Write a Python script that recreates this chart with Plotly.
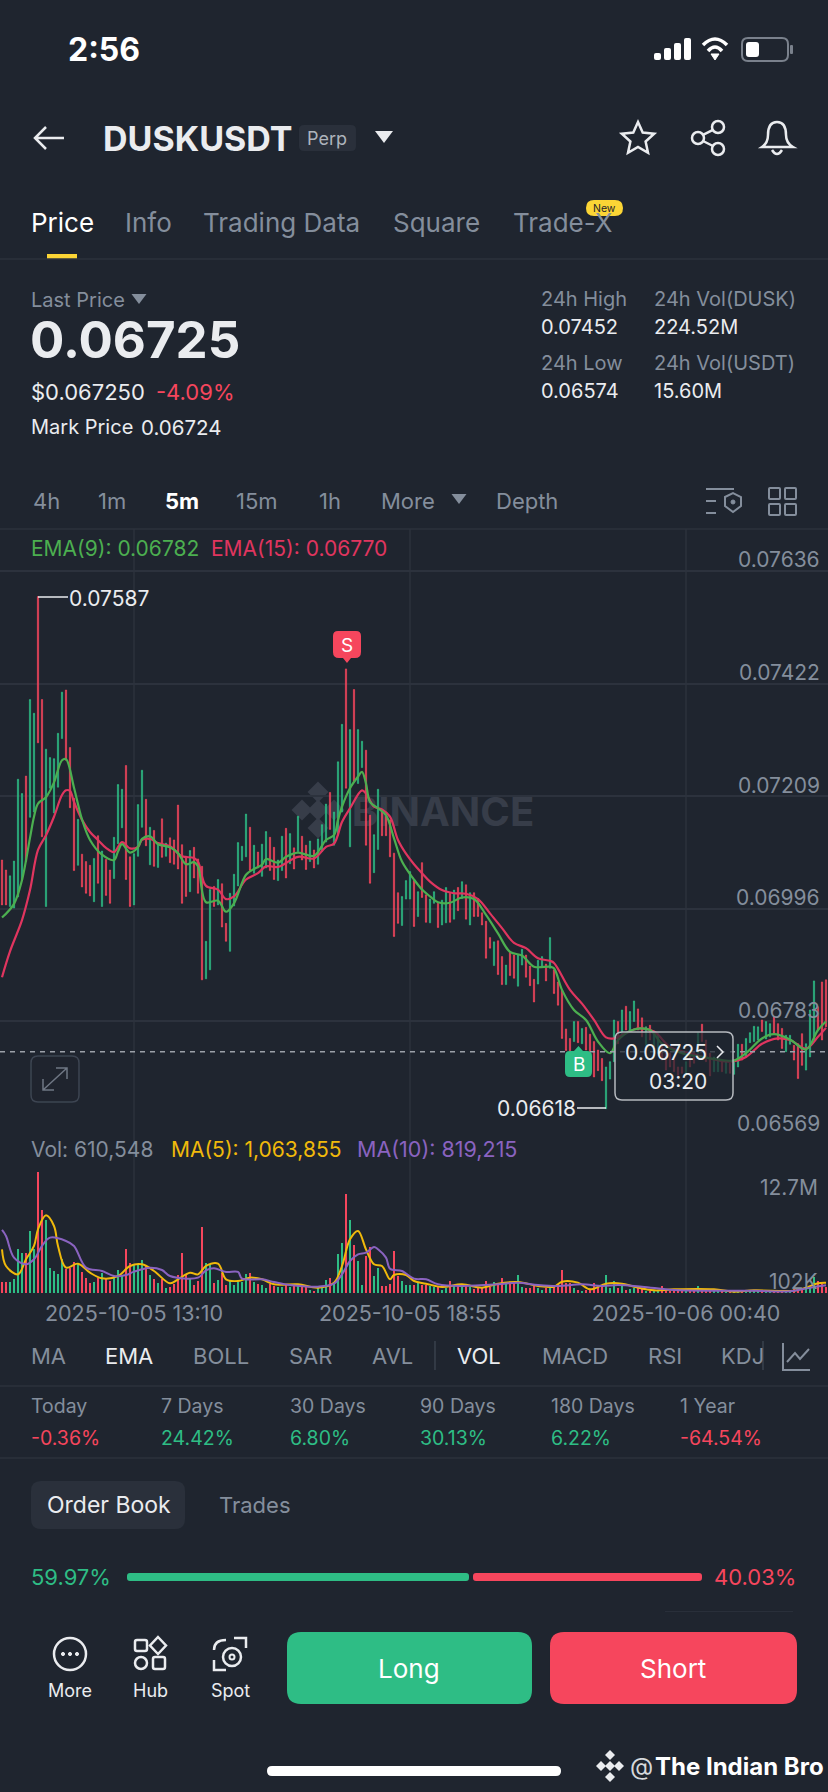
import math
import pandas as pd
import plotly.graph_objects as go

W, H = 828, 1792
FONT = "Inter"
BG = "#1F252F"
GREEN = "#2EBD85"
RED = "#F6465D"
GRAY = "#848E9C"
WHITE = "#EAECEF"
GRID = "#2C323D"

# candle open/close, in units of 0.00001
opens = [7088,7069,7000,6997,7018,7050,7247,7169,7179,7587,7392,7000,7224,7177,7226,7318,7410,7301,7205,7078,7099,7085,7078,7009,7134,7000,7089,7069,7053,7119,
         7149,7267,7094,7003,7095,7150,7203,7079,7144,7074,7166,7095,7130,7126,7192,7117,7095,7028,7112,7090,7076,6863,6880,7038,7003,7043,6968,6915,7001,7039,
         7087,7094,7150,7063,7103,7057,7073,7131,7112,7049,7068,7148,7081,7111,7104,7133,7116,7085,7107,7080,7104,7122,7216,7116,7135,7179,7450,7113,7411,7233,
         7263,7296,7173,7064,7108,7181,7171,7164,7101,7026,6964,7014,7014,7049,6981,7083,7022,6969,7006,7006,6965,6969,7025,6976,7036,7015,7041,6965,7026,7015,
         6988,6972,6941,6888,6935,6905,6852,6914,6908,6849,6889,6908,6887,6862,6853,6885,6891,6883,6880,6857,6842,6768,6750,6744,6782,6740,6771,6758,6744,6728,
         6712,6617,6673,6706,6782,6753,6811,6763,6782,6806,6789,6737,6775,6734,6722,6740,6722,6722,6712,6696,6696,6680,6722,6725,6722,6777,6747,6722,6687,6687,
         6706,6684,6703,6682,6696,6739,6715,6742,6744,6747,6785,6749,6753,6791,6778,6769,6725,6739,6737,6740,6759,6690,6715,6747,6810,6857,6861]
closes = [7003,7003,7058,7086,7241,7214,7085,7392,7366,7310,7132,7298,7282,7280,7328,7406,7277,7187,7068,7165,7037,7025,7020,7091,7044,7105,7021,7006,7131,7231,
          7222,7051,7000,7100,7193,7258,7115,7150,7076,7120,7093,7120,7083,7080,7071,7006,7019,7106,7054,7025,6861,6934,7032,7000,7051,6961,6934,7025,7061,7121,
          7114,7175,7068,7116,7073,7118,7142,7068,7051,7088,7133,7054,7138,7071,7171,7088,7070,7124,7073,7128,7155,7194,7146,7179,7274,7345,7224,7335,7236,7335,
          7313,7116,7044,7136,7222,7134,7134,7094,6943,6968,7019,7049,7066,6962,7028,7017,6970,7014,7028,6960,7012,7036,6970,7031,6992,7047,6976,7026,6981,6981,
          6965,6902,6921,6933,6871,6852,6889,6869,6864,6908,6919,6866,6850,6819,6898,6905,6859,6941,6835,6813,6750,6727,6722,6782,6742,6769,6728,6706,6677,6689,
          6670,6696,6706,6785,6740,6804,6766,6801,6821,6766,6753,6772,6747,6759,6759,6709,6690,6696,6687,6680,6684,6706,6696,6703,6761,6744,6706,6679,6715,6712,
          6687,6706,6684,6709,6739,6709,6750,6761,6773,6772,6763,6782,6778,6759,6747,6731,6756,6756,6709,6674,6699,6740,6804,6859,6766,6747,6772]

# volumes, in thousands
volumes = [1190,1190,1155,1435,4585,4165,4165,6475,4585,12700,8680,7665,2590,2310,2030,3535,2555,2660,3290,3010,2205,1610,1085,1190,1540,2065,1540,1260,1785,2415,
           1890,4655,3115,2905,2905,3430,2835,1890,1435,1015,1435,490,630,910,1890,4200,1890,1435,805,1260,6965,3115,2940,1085,1365,2065,805,1260,805,1155,
           1155,1960,2135,1155,910,805,560,910,735,665,665,910,665,735,910,980,735,315,140,525,595,1365,1540,1155,4060,5285,10360,7630,5040,3325,
           805,3885,4865,1750,2590,735,735,980,4375,1785,1225,805,840,840,1050,875,875,700,630,630,350,560,1260,700,770,700,770,630,420,490,
           630,1225,630,1190,1050,1540,980,980,1050,1855,630,490,490,700,560,350,560,630,630,700,2380,1050,1050,560,350,210,350,420,1050,770,
           700,1855,560,1260,560,700,350,420,490,490,490,245,210,280,350,700,350,210,140,210,210,175,210,175,770,280,210,280,245,210,
           140,105,105,105,105,105,105,210,210,175,175,175,245,105,105,175,105,105,420,350,525,420,770,1680,1225,980,611]

# moving averages read at these candle numbers
ema9_idx = [0,3,5,7,8,9,11,13,15,16,18,20,22,25,28,29,30,32,34,35,37,39,42,44,46,48,49,51,54,56,58,61,63,65,66,69,71,74,78,81,83,84,85,87,89,90,91,92,94,96,98,100,
            103,105,107,109,112,115,118,121,124,127,130,133,137,138,140,143,146,149,152,154,158,162,165,170,175,180,183,186,190,193,197,201,204,206]
ema9 = [6979,7005,7050,7130,7170,7195,7207,7235,7277,7279,7225,7165,7126,7098,7088,7104,7118,7102,7112,7128,7133,7118,7112,7101,7080,7084,7076,7008,7011,6990,7006,7060,7071,7079,7090,7083,7094,7102,7096,7126,7135,7164,7189,7224,7246,7255,7233,7198,7186,7173,7129,7085,
        7051,7032,7019,7008,7007,7017,7014,6984,6949,6914,6907,6886,6886,6883,6842,6804,6785,6744,6722,6747,6767,6766,6740,6722,6715,6709,6708,6722,6750,6758,6748,6729,6766,6782]
ema15_idx = [0,2,5,7,9,11,13,15,16,17,18,20,22,24,26,28,30,32,34,35,37,39,42,45,48,49,51,54,56,58,61,64,66,69,74,78,81,83,85,87,90,91,93,95,97,99,101,
             103,105,107,110,113,116,119,122,125,128,131,134,137,138,142,145,148,151,153,156,159,163,167,172,177,182,186,190,194,197,201,204,206]
ema15 = [6866,6915,6974,7031,7107,7135,7170,7211,7220,7219,7198,7164,7141,7126,7111,7103,7122,7110,7113,7126,7128,7120,7114,7095,7092,7085,7039,7032,7014,7019,7051,7063,7076,7075,7094,7091,7113,7119,7160,7186,7220,7214,7189,7184,7170,7126,7100,
         7080,7063,7047,7031,7025,7024,7014,6987,6959,6931,6921,6902,6897,6893,6842,6816,6785,6752,6750,6760,6769,6763,6734,6722,6712,6706,6715,6740,6750,6747,6731,6753,6770]
ma5_idx = [0,1,4,6,8,9,11,13,14,16,19,22,25,29,32,35,38,42,44,47,49,51,54,56,59,62,65,68,74,79,83,85,87,89,91,93,95,97,98,101,103,106,110,115,120,124,129,134,138,140,144,147,151,155,158,163,168,178,183,188,198,201,204,206]
ma5 = [4585,2835,1960,3535,4935,6685,8155,7035,4935,2660,3080,2135,1540,1785,2835,3010,2310,1015,1435,2135,1960,2835,3080,1435,1260,1610,1435,910,910,560,1085,2835,5635,6510,4585,3010,2835,1435,1890,1890,1260,980,630,910,560,980,1155,735,665,1190,1085,385,980,980,665,280,385,385,140,280,245,560,1015,1064]
ma10_idx = [0,1,3,6,8,10,12,16,18,21,25,28,31,33,37,40,42,49,51,53,56,59,60,65,68,72,79,83,85,87,89,91,93,94,96,97,100,103,106,109,115,124,129,134,139,145,150,154,160,168,178,188,197,202,206]
ma10 = [6615,5985,3710,3010,3535,4935,5810,5460,4935,2660,2310,1785,1890,2240,2660,2415,1785,1610,2380,2590,2205,2205,1505,1435,1155,840,665,980,1960,3360,4060,4235,4830,4585,3710,2555,2310,1505,1435,910,735,910,1085,840,735,910,735,840,665,315,245,245,175,560,819]

price_ticks = [0.07636, 0.07422, 0.07209, 0.06996, 0.06783, 0.06569]
time_ticks = ["2025-10-05 13:10", "2025-10-05 18:55", "2025-10-06 00:40"]
last_price = 0.06725

candle_times = pd.date_range("2025-10-05 10:25", periods=len(opens), freq="5min")
half_step = pd.Timedelta(minutes=2.5)


def px(x):
    return x / W


def py(y):
    return 1 - y / H


def path(d):
    # path written in screen pixels, turned into paper fractions
    out, is_x = [], True
    for tok in d.split():
        if tok.isalpha():
            out.append(tok)
        else:
            out.append(f"{px(float(tok)):.5f}" if is_x else f"{py(float(tok)):.5f}")
            is_x = not is_x
    return " ".join(out)


shapes = []
annotations = []


def line(d, color=WHITE, width=2, fill=None, layer="above"):
    shapes.append(dict(type="path", xref="paper", yref="paper", path=path(d), layer=layer,
                       line=dict(color=color, width=width), fillcolor=fill))


def rrect(x0, y0, x1, y1, r, fill=None, color=None, width=0, opacity=1, layer="above"):
    d = (f"M {x0 + r} {y0} L {x1 - r} {y0} Q {x1} {y0} {x1} {y0 + r} L {x1} {y1 - r} Q {x1} {y1} {x1 - r} {y1} "
         f"L {x0 + r} {y1} Q {x0} {y1} {x0} {y1 - r} L {x0} {y0 + r} Q {x0} {y0} {x0 + r} {y0} Z")
    shapes.append(dict(type="path", xref="paper", yref="paper", path=path(d), layer=layer, opacity=opacity,
                       line=dict(color=color or "rgba(0,0,0,0)", width=width), fillcolor=fill or "rgba(0,0,0,0)"))


def circle(cx, cy, r, fill=None, color=None, width=2):
    shapes.append(dict(type="circle", xref="paper", yref="paper", x0=px(cx - r), x1=px(cx + r),
                       y0=py(cy + r), y1=py(cy - r), fillcolor=fill or "rgba(0,0,0,0)",
                       line=dict(color=color or "rgba(0,0,0,0)", width=width)))


def hline(x0, x1, y, color=GRID, width=1.5):
    line(f"M {x0} {y} L {x1} {y}", color, width)


def tri(cx, cy, w, h, color):
    line(f"M {cx - w / 2} {cy - h / 2} L {cx + w / 2} {cy - h / 2} L {cx} {cy + h / 2} Z", color, 0, color)


def text(s, x, y, size=20, color=GRAY, anchor="left", bold=False, family=FONT):
    annotations.append(dict(text=f"<b>{s}</b>" if bold else s, x=px(x), y=py(y), xref="paper", yref="paper",
                            xanchor=anchor, yanchor="middle", showarrow=False, borderpad=0,
                            font=dict(family=family, size=size, color=color)))


fig = go.Figure()
fig.add_trace(go.Candlestick(
    x=candle_times,
    open=[v / 1e5 for v in opens], close=[v / 1e5 for v in closes],
    high=[max(a, b) / 1e5 for a, b in zip(opens, closes)], low=[min(a, b) / 1e5 for a, b in zip(opens, closes)],
    increasing=dict(line=dict(color=GREEN, width=0.6), fillcolor=GREEN),
    decreasing=dict(line=dict(color=RED, width=0.6), fillcolor=RED),
    whiskerwidth=0, hoverinfo="skip", showlegend=False, xaxis="x", yaxis="y"))
fig.add_trace(go.Scatter(x=candle_times[ema15_idx], y=[v / 1e5 for v in ema15], mode="lines",
                         line=dict(color="#E0355F", width=2.2, shape="spline"), hoverinfo="skip", showlegend=False))
fig.add_trace(go.Scatter(x=candle_times[ema9_idx], y=[v / 1e5 for v in ema9], mode="lines",
                         line=dict(color="#4CAF50", width=2.2, shape="spline"), hoverinfo="skip", showlegend=False))
fig.add_trace(go.Bar(x=candle_times, y=[v * 1000 for v in volumes], width=190000,
                     marker=dict(color=[GREEN if c >= o else RED for o, c in zip(opens, closes)], line=dict(width=0)),
                     hoverinfo="skip", showlegend=False, xaxis="x", yaxis="y2"))
fig.add_trace(go.Scatter(x=candle_times[ma5_idx], y=[v * 1000 for v in ma5], mode="lines", yaxis="y2",
                         line=dict(color="#F0B90B", width=2, shape="spline"), hoverinfo="skip", showlegend=False))
fig.add_trace(go.Scatter(x=candle_times[ma10_idx], y=[v * 1000 for v in ma10], mode="lines", yaxis="y2",
                         line=dict(color="#8A63C0", width=2, shape="spline"), hoverinfo="skip", showlegend=False))

# status bar
text("2:56", 67, 49, 32, "#FFFFFF", bold=True)
for x, top in zip([654, 664, 674, 684], [53, 48, 43, 38]):
    rrect(x, top, x + 7, 60, 2, fill="#FFFFFF")
line("M 703 45 Q 715 33 727 45", "#FFFFFF", 3.5)
line("M 708 51 Q 715 43 722 51", "#FFFFFF", 3.5)
line("M 711 54 L 719 54 L 715 60 Z", "#FFFFFF", 1, "#FFFFFF")
rrect(742, 38, 788, 61, 6, color="#7A818C", width=2)
rrect(746, 42, 759, 57, 3, fill="#FFFFFF")
rrect(790, 45, 793, 54, 1, fill="#7A818C")

# title row
line("M 46 127 L 35 138 L 46 149 M 35 138 L 64 138", WHITE, 2.5)
text("DUSKUSDT", 102, 138, 34, WHITE, bold=True)
rrect(299, 125, 356, 151, 5, fill="#2A303B")
text("Perp", 327, 138, 18, "#AEB4BC", "center")
tri(384, 137, 18, 12, WHITE)
star = []
for k in range(10):
    r = 17 if k % 2 == 0 else 8
    a = -math.pi / 2 + k * math.pi / 5
    star.append(f"{'M' if k == 0 else 'L'} {638 + r * math.cos(a):.1f} {139 + r * math.sin(a):.1f}")
line(" ".join(star) + " Z", WHITE, 2.5)
circle(698, 138, 6, color=WHITE, width=2.5)
circle(718, 127, 6, color=WHITE, width=2.5)
circle(718, 149, 6, color=WHITE, width=2.5)
line("M 703 135 L 713 130 M 703 141 L 713 146", WHITE, 2.5)
line("M 762 147 Q 768 143 768 135 Q 768 122 777 122 Q 786 122 786 135 Q 786 143 793 147 Z", WHITE, 2.5)
line("M 772 150 Q 777 158 782 150", WHITE, 2.5)

# tabs
text("Price", 30, 222, 26, "#FFFFFF")
text("Info", 124, 222, 26)
text("Trading Data", 202, 222, 26)
text("Square", 392, 222, 26)
text("Trade-X", 512, 222, 26)
rrect(586, 200, 623, 216, 8, fill="#FCD535")
text("New", 604.5, 208, 10.5, "#1E2329", "center")
rrect(47, 254, 77, 259, 0, fill="#FCD535")
hline(0, W, 259)

# price block
text("Last Price", 30, 300, 20)
tri(139, 299, 15, 10, GRAY)
text("0.06725", 29, 340, 51, WHITE, bold=True)
text("$0.067250", 30, 392, 22, WHITE)
text("-4.09%", 155, 392, 22, RED)
text("Mark Price", 30, 427, 20, WHITE)
text("0.06724", 140, 427, 20.5, WHITE)
text("24h High", 540, 299, 20)
text("24h Vol(DUSK)", 653, 299, 20)
text("0.07452", 540, 327, 20, WHITE)
text("224.52M", 653, 327, 20, WHITE)
text("24h Low", 540, 363, 20)
text("24h Vol(USDT)", 653, 363, 20)
text("0.06574", 540, 391, 20, WHITE)
text("15.60M", 653, 391, 20, WHITE)

# interval row
for s, x in [("4h", 32), ("1m", 97), ("15m", 235), ("1h", 318), ("More", 380), ("Depth", 495)]:
    text(s, x, 501, 22)
text("5m", 164, 501, 22, "#FFFFFF", bold=True)
tri(459, 499, 15, 10, GRAY)
line("M 706 489 L 734 489 M 706 501 L 716 501 M 706 513 L 716 513", GRAY, 2)
line("M 725 497 L 733 493 L 741 497 L 741 506 L 733 512 L 725 506 Z", GRAY, 2)
circle(733, 502, 2, fill=GRAY, color=GRAY, width=1)
for x0 in (769, 785):
    for y0 in (488, 504):
        rrect(x0, y0, x0 + 11, y0 + 11, 1, color=GRAY, width=2)
hline(0, W, 529)

# chart legends
text("EMA(9): 0.06782", 30, 548, 21, "#4CAF50")
text("EMA(15): 0.06770", 210, 548, 21, "#E0355F")
text("Vol: 610,548", 30, 1149, 21)
text("MA(5): 1,063,855", 170, 1149, 21, "#F0B90B")
text("MA(10): 819,215", 356, 1149, 21.5, "#8A63C0")
text("12.7M", 819, 1187, 21, GRAY, "right")
text("102K", 819, 1281, 21, GRAY, "right")

# gridlines and labels tied to the data axes
for t in time_ticks:
    shapes.append(dict(type="line", xref="x", yref="paper", x0=t, x1=t, y0=py(1293), y1=py(529), layer="below",
                       line=dict(color=GRID, width=1.5)))
for v in price_ticks:
    annotations.append(dict(text=f"{v:.5f}", x=px(822), y=v, xref="paper", yref="y", xanchor="right", yanchor="middle",
                            yshift=11, showarrow=False, font=dict(family=FONT, size=21, color=GRAY)))
# BINANCE watermark under the candles
shapes.append(dict(type="rect", xref="paper", yref="paper", x0=px(350), x1=px(536), y0=py(830), y1=py(790), layer="below",
                   line=dict(width=0), fillcolor="rgba(0,0,0,0)",
                   label=dict(text="<b>BINANCE</b>", font=dict(family=FONT, size=40, color="#373D49"), textposition="middle center")))
WM = "#373D49"
for cx, cy, r in [(318, 792, 7), (302, 810, 7), (334, 810, 7), (318, 828, 7), (318, 810, 7)]:
    line(f"M {cx} {cy - r * 1.5} L {cx + r * 1.5} {cy} L {cx} {cy + r * 1.5} L {cx - r * 1.5} {cy} Z", WM, 0, WM, layer="below")

# last price line, tooltip and high/low markers
shapes.append(dict(type="line", xref="paper", yref="y", x0=0, x1=1, y0=last_price, y1=last_price, layer="above",
                   line=dict(color="#9CA1A9", width=1.5, dash="5px,5px")))
rrect(615, 1032, 733, 1100, 7, fill="rgba(31,37,47,0.72)", color="#B5B9BF", width=1.5)
text("0.06725", 666, 1052, 21, WHITE, "center")
line("M 717 1046 L 723 1052 L 717 1058", WHITE, 1.5)
text("03:20", 678, 1081, 21, WHITE, "center")
hline(38, 68, 597, WHITE, 1.5)
text("0.07587", 68, 599, 21, WHITE)
hline(577, 606, 1108, WHITE, 1.5)
text("0.06618", 577, 1108, 21, WHITE, "right")
line("M 338 631 L 356 631 Q 361 631 361 636 L 361 652 Q 361 658 355 658 L 351 658 L 347 663 L 343 658 L 339 658 "
     "Q 333 658 333 652 L 333 636 Q 333 631 338 631 Z", RED, 0, RED)
text("S", 347, 645, 19, "#FFFFFF", "center")
line("M 570 1051 L 574 1051 L 578.5 1046 L 583 1051 L 587 1051 Q 592 1051 592 1056 L 592 1072 Q 592 1077 587 1077 "
     "L 570 1077 Q 565 1077 565 1072 L 565 1056 Q 565 1051 570 1051 Z", GREEN, 0, GREEN)
text("B", 578.5, 1064, 19, "#FFFFFF", "center")
rrect(31, 1056, 79, 1102, 7, fill="rgba(31,37,47,0.6)", color="#3D4552", width=1.5)
line("M 43 1090 L 67 1068 M 43 1079 L 43 1090 L 54 1090 M 56 1068 L 67 1068 L 67 1079", "#6F7784", 1.5)

# indicator row
for s, x in [("MA", 30), ("BOLL", 192), ("SAR", 288), ("AVL", 371), ("MACD", 541), ("RSI", 647), ("KDJ", 720)]:
    text(s, x, 1356, 22)
text("EMA", 104, 1356, 22, WHITE)
text("VOL", 456, 1356, 22, WHITE)
line("M 435 1341 L 435 1370 M 763 1341 L 763 1370", "#3A414D", 1.5)
line("M 783 1343 L 783 1370 L 810 1370 M 787 1362 L 795 1353 L 800 1359 L 809 1349", GRAY, 2)
hline(0, W, 1386)

# performance row
for s, v, x, c in [("Today", "-0.36%", 30, RED), ("7 Days", "24.42%", 160, GREEN), ("30 Days", "6.80%", 289, GREEN),
                   ("90 Days", "30.13%", 419, GREEN), ("180 Days", "6.22%", 550, GREEN), ("1 Year", "-64.54%", 679, RED)]:
    text(s, x, 1406, 19.5)
    text(v, x, 1438, 19.5, c)
hline(0, W, 1458)

# order book
rrect(31, 1481, 185, 1529, 10, fill="#2A303B")
text("Order Book", 46, 1505, 23, WHITE)
text("Trades", 218, 1505, 22)
text("59.97%", 30, 1577, 22, GREEN)
text("40.03%", 797, 1577, 22, RED, "right")
rrect(127, 1573, 469, 1581, 3, fill=GREEN)
rrect(473, 1573, 702, 1581, 3, fill=RED)
hline(665, 793, 1611.5, "#2A303B", 1)

# bottom bar
circle(70, 1654, 16, color=WHITE, width=2.5)
for dx in (-7, 0, 7):
    circle(70 + dx, 1654, 1.6, fill=WHITE, color=WHITE, width=1)
text("More", 70, 1690, 18, WHITE, "center")
rrect(135, 1640, 147, 1651, 2, color=WHITE, width=2.5)
line("M 158 1637 L 166 1645.5 L 158 1654 L 150 1645.5 Z", WHITE, 2.5)
circle(141, 1663, 6, color=WHITE, width=2.5)
rrect(153, 1657, 165, 1669, 2, color=WHITE, width=2.5)
text("Hub", 150, 1690, 18, WHITE, "center")
line("M 214 1650 Q 214 1640 226 1640 M 234 1638 L 246 1638 L 246 1648 M 214 1660 L 214 1670 L 226 1670", WHITE, 2.5)
circle(232, 1657, 9, color=WHITE, width=2.5)
circle(232, 1657, 2.5, color=WHITE, width=2)
text("Spot", 230, 1690, 18, WHITE, "center")
rrect(287, 1632, 532, 1704, 14, fill=GREEN)
text("Long", 409, 1668, 26, "#FFFFFF", "center")
rrect(550, 1632, 797, 1704, 14, fill=RED)
text("Short", 673, 1668, 26, "#FFFFFF", "center")
rrect(267, 1766, 561, 1776, 5, fill="#FFFFFF")
for cx, cy in [(610, 1755), (601, 1766), (619, 1766), (610, 1777), (610, 1766)]:
    line(f"M {cx} {cy - 5} L {cx + 5} {cy} L {cx} {cy + 5} L {cx - 5} {cy} Z", WHITE, 0, WHITE)
text("@", 629, 1766, 24, "#D5D8DC")
text("The Indian Bro", 654, 1766, 24, "#FFFFFF", bold=True)

fig.update_layout(
    width=W, height=H, margin=dict(l=0, r=0, t=0, b=0), autosize=False,
    paper_bgcolor=BG, plot_bgcolor=BG, showlegend=False, hovermode=False, dragmode=False, boxgap=0.55,
    font=dict(family=FONT),
    xaxis=dict(domain=[0, 1], anchor="y2", type="date", range=[candle_times[0] - half_step, candle_times[-1] + half_step],
               tickvals=time_ticks, tickformat="%Y-%m-%d %H:%M", tickfont=dict(family=FONT, size=21.5, color=GRAY),
               showgrid=False, zeroline=False, showline=False, ticks="", ticklabelstandoff=5, rangeslider=dict(visible=False)),
    yaxis=dict(domain=[py(1134), py(529)], range=[0.06569, 0.07715], tickvals=price_ticks, showticklabels=False,
               gridcolor=GRID, gridwidth=1.5, zeroline=False, showline=False, ticks=""),
    yaxis2=dict(domain=[py(1293), py(1172)], range=[0, 12700000], showticklabels=False, showgrid=False,
                zeroline=False, showline=False, ticks=""),
    shapes=shapes, annotations=annotations, bargap=0,
)

fig.write_html("out.html", config=dict(displayModeBar=False), post_script="document.body.style.margin='0';")
